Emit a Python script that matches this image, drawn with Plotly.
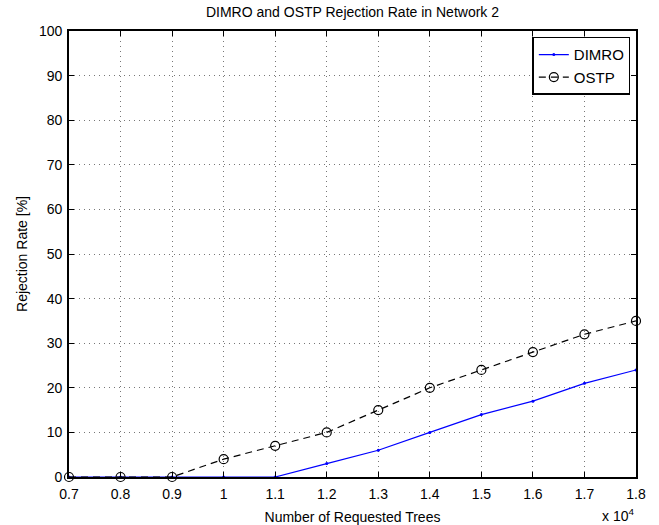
import plotly.graph_objects as go

# Number of requested trees and rejection rates [%]
requested_trees = [7000, 8000, 9000, 10000, 11000, 12000, 13000, 14000, 15000, 16000, 17000, 18000]
dimro_rate = [0, 0, 0, 0, 0, 3, 6, 10, 14, 17, 21, 24]
ostp_rate = [0, 0, 0, 4, 7, 10, 15, 20, 24, 28, 32, 35]

x_tick_vals = requested_trees
x_tick_text = ["0.7", "0.8", "0.9", "1", "1.1", "1.2", "1.3", "1.4", "1.5", "1.6", "1.7", "1.8"]
y_tick_vals = [0, 10, 20, 30, 40, 50, 60, 70, 80, 90, 100]

FONT = "Liberation Sans, Arial, Helvetica, sans-serif"

fig = go.Figure()
fig.add_trace(go.Scatter(
    x=requested_trees, y=dimro_rate, name="DIMRO",
    mode="lines+markers",
    line=dict(color="#0000ff", width=1.2),
    marker=dict(symbol="circle", size=3, color="#0000ff"),
    cliponaxis=False,
))
fig.add_trace(go.Scatter(
    x=requested_trees, y=ostp_rate, name="OSTP",
    mode="lines+markers",
    line=dict(color="black", width=1.2, dash="7px,5px"),
    marker=dict(symbol="circle-open", size=9, color="black", line=dict(width=1.2)),
    cliponaxis=False,
))

axis_common = dict(
    showline=True, linecolor="black", linewidth=1.8, mirror="ticks",
    ticks="inside", ticklen=5, tickcolor="black", tickwidth=1,
    showgrid=True, gridcolor="#777777", griddash="1px,4px", gridwidth=1,
    zeroline=False,
    tickfont=dict(family=FONT, size=14, color="black"),
)

fig.update_layout(
    width=659, height=525,
    margin=dict(l=69, r=23, t=31, b=48),
    paper_bgcolor="white", plot_bgcolor="white",
    title=dict(text="DIMRO and OSTP Rejection Rate in Network 2",
               font=dict(family=FONT, size=14, color="black"),
               x=0.5, xanchor="center", xref="paper", y=0.977, yanchor="middle"),
    xaxis=dict(axis_common, range=[7000, 18000], tickvals=x_tick_vals, ticktext=x_tick_text,
               ticklabelstandoff=3, automargin=False,
               title=dict(text="Number of Requested Trees", font=dict(family=FONT, size=14, color="black"))),
    yaxis=dict(axis_common, range=[0, 100], tickvals=y_tick_vals,
               ticklabelstandoff=2, automargin=True,
               title=dict(text="Rejection Rate [%]", font=dict(family=FONT, size=14, color="black"),
                          standoff=8)),
    legend=dict(x=0.99, y=0.987, xanchor="right", yanchor="top",
                bgcolor="white", bordercolor="black", borderwidth=1.5,
                font=dict(family=FONT, size=15, color="black"),
                tracegroupgap=0, itemwidth=30),
    showlegend=True,
)

fig.add_annotation(
    text="x 10<sup>4</sup>", xref="paper", yref="paper", x=1.0, y=-0.085,
    xanchor="right", yanchor="middle", showarrow=False,
    font=dict(family=FONT, size=14, color="black"),
)

fig.write_html("out.html")
